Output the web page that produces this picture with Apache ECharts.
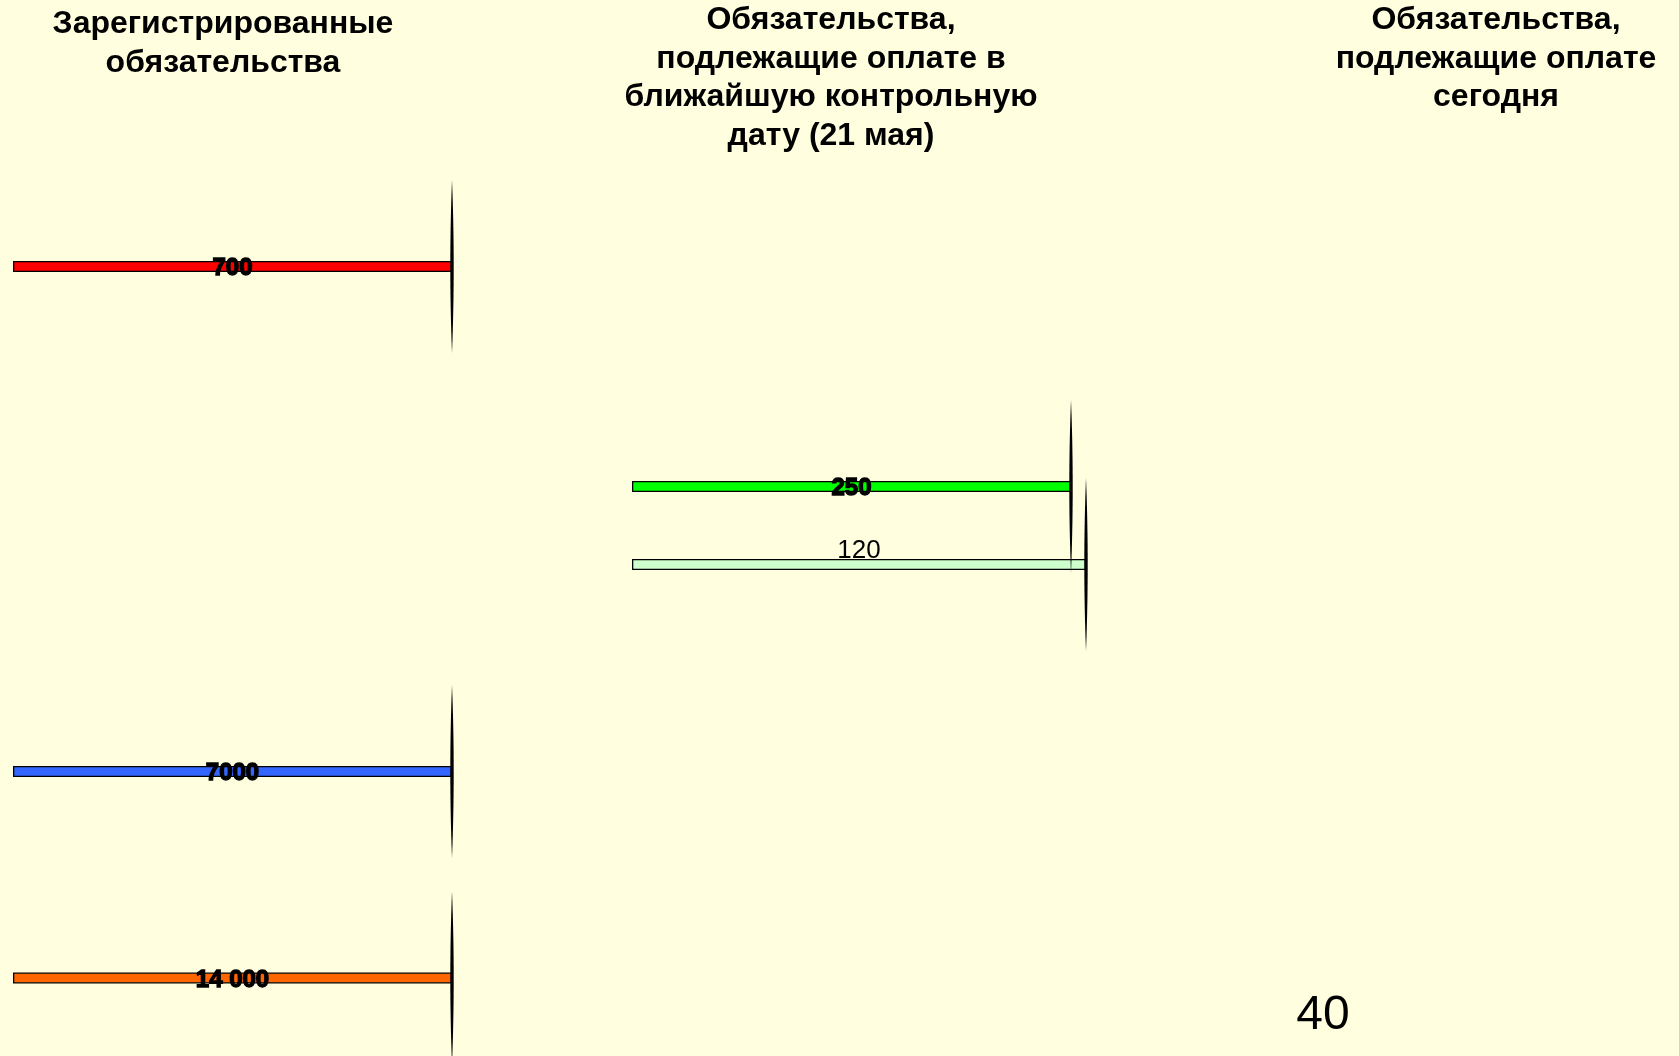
<!DOCTYPE html>
<html>
<head>
<meta charset="utf-8">
<script src="https://cdn.jsdelivr.net/npm/echarts@6/dist/echarts.min.js"></script>
<style>
html, body { margin: 0; padding: 0; background: #FFFFE0; }
#chart { width: 1679px; height: 1056px; }
</style>
</head>
<body>
<div id="chart"></div>
<script>
// ---- data ----
const columnTitles = [
  'Зарегистрированные\nобязательства',
  'Обязательства,\nподлежащие оплате в\nближайшую контрольную\nдату (21 мая)',
  'Обязательства,\nподлежащие оплате\nсегодня'
];
const registeredValues = [700, 7000, 14000];
const registeredLabels = ['700', '7000', '14 000'];
const dueValues = [250, 120];
const dueLabels = ['250', '120'];
const pageNumber = '40';

// ---- layout / styles (not data) ----
const sources = {
  registered: { values: registeredValues, labels: registeredLabels },
  due: { values: dueValues, labels: dueLabels }
};
// cy = vertical centre of the bar; LENS = length of the end cap
const barLayout = [
  { src: 'registered', i: 0, color: '#FF0000', left: 13,  width: 439, cy: 266.5, pos: 'inside' },
  { src: 'registered', i: 1, color: '#3366FF', left: 13,  width: 439, cy: 771.5, pos: 'inside' },
  { src: 'registered', i: 2, color: '#FF6600', left: 13,  width: 439, cy: 978,   pos: 'inside' },
  { src: 'due',        i: 0, color: '#00FF00', left: 632, width: 439, cy: 486.5, pos: 'inside' },
  { src: 'due',        i: 1, color: '#CCFFCC', left: 632, width: 454, cy: 564.5, pos: 'top' }
];
const LENS = 173;
const GRID_H = 40;
const titleLayout = [
  { x: 223,  y: 5 },
  { x: 831,  y: 1 },
  { x: 1496, y: 1 }
];
const FONT = '"Liberation Sans", Arial, sans-serif';

const grid = [], xAxis = [], yAxis = [], series = [];
barLayout.forEach((b, k) => {
  const value = sources[b.src].values[b.i];
  const label = sources[b.src].labels[b.i];
  grid.push({ left: b.left, top: b.cy - GRID_H / 2, width: b.width, height: GRID_H, containLabel: false });
  xAxis.push({ gridIndex: k, type: 'value', min: 0, max: 'dataMax', show: false });
  yAxis.push({ gridIndex: k, type: 'category', data: [label], show: false });
  series.push({
    type: 'bar',
    xAxisIndex: k, yAxisIndex: k,
    data: [value],
    barWidth: 11,
    silent: true,
    itemStyle: { color: b.color, borderColor: '#000', borderWidth: 1.3 },
    label: b.pos === 'inside' ? {
      show: true, position: 'inside', offset: [0, 2],
      formatter: () => label,
      color: '#000', fontFamily: FONT, fontWeight: 'bold', fontSize: 24,
      textBorderColor: '#000', textBorderWidth: 1.3
    } : {
      show: true, position: 'top', distance: -5,
      formatter: () => label,
      color: '#000', fontFamily: FONT, fontWeight: 'normal', fontSize: 26
    },
    z: 2
  });
  // lens-shaped end cap drawn at the bar's end
  series.push({
    type: 'custom',
    xAxisIndex: k, yAxisIndex: k,
    data: [[value, 0]],
    encode: { x: 0, y: 1 },
    silent: true,
    clip: false,
    z: 3,
    renderItem: function (params, api) {
      const p = api.coord([api.value(0), api.value(1)]);
      const N = 30, hw = 1.7, half = LENS / 2;
      const pts = [];
      for (let j = 0; j <= N; j++) {
        const t = -1 + 2 * j / N;
        pts.push([p[0] + hw * (1 - t * t), p[1] + t * half]);
      }
      for (let j = N; j >= 0; j--) {
        const t = -1 + 2 * j / N;
        pts.push([p[0] - hw * (1 - t * t), p[1] + t * half]);
      }
      return { type: 'polygon', shape: { points: pts }, style: { fill: '#000' } };
    }
  });
});

const graphic = columnTitles.map((t, i) => ({
  type: 'text',
  x: titleLayout[i].x, y: titleLayout[i].y,
  style: {
    text: t,
    textAlign: 'center', textVerticalAlign: 'top',
    font: 'bold 32px ' + FONT,
    lineHeight: 38.5,
    fill: '#000'
  }
}));
graphic.push({
  type: 'text', x: 1323, y: 1016,
  style: {
    text: pageNumber, textAlign: 'center', textVerticalAlign: 'middle',
    font: '48px ' + FONT, fill: '#000'
  }
});

const chart = echarts.init(document.getElementById('chart'), null, { renderer: 'canvas' });
chart.setOption({
  backgroundColor: '#FFFFE0',
  animation: false,
  grid, xAxis, yAxis, series, graphic
});
</script>
</body>
</html>
